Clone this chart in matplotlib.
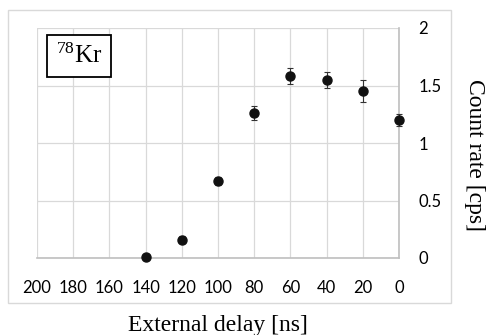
import matplotlib
matplotlib.use("Agg")
import matplotlib.pyplot as plt
from matplotlib.patches import Rectangle

plt.rcParams["mathtext.fontset"] = "custom"
plt.rcParams["mathtext.rm"] = "Liberation Serif"
plt.rcParams["mathtext.it"] = "Liberation Serif:italic"
plt.rcParams["mathtext.bf"] = "Liberation Serif:bold"

delay_ns = [140, 120, 100, 80, 60, 40, 20, 0]
count_rate = [0.01, 0.16, 0.67, 1.26, 1.58, 1.545, 1.455, 1.20]
count_err = [0.02, 0.03, 0.035, 0.06, 0.07, 0.07, 0.095, 0.05]
x_ticks = [200, 180, 160, 140, 120, 100, 80, 60, 40, 20, 0]
y_ticks = [0, 0.5, 1, 1.5, 2]
y_ticklabels = ["0", "0.5", "1", "1.5", "2"]

W, H = 486, 335
fig = plt.figure(figsize=(W / 100, H / 100), dpi=100)
ax = fig.add_axes([37 / W, 1 - 258 / H, (399 - 37) / W, (258 - 28) / H])

# outer chart frame
fig.patches.append(Rectangle((8 / W, 1 - 303 / H), (451 - 8) / W, (303 - 10) / H,
                             transform=fig.transFigure, fill=False,
                             edgecolor="#d9d9d9", linewidth=1.0, zorder=0))

ax.errorbar(delay_ns, count_rate, yerr=count_err, fmt="o", color="#111111",
            markersize=6.5, ecolor="#333333", elinewidth=0.8, capsize=2.5,
            capthick=0.8, zorder=5, clip_on=False)

ax.set_xlim(200, 0)
ax.set_ylim(0, 2)
ax.set_xticks(x_ticks)
ax.set_yticks(y_ticks)
ax.set_yticklabels(y_ticklabels)
ax.grid(True, color="#d9d9d9", linewidth=0.9)
ax.set_axisbelow(True)
for s in ["top", "left"]:
    ax.spines[s].set_visible(False)
ax.spines["bottom"].set_color("#bfbfbf")
ax.spines["right"].set_color("#bfbfbf")
ax.spines["bottom"].set_linewidth(1.2)
ax.spines["right"].set_linewidth(1.2)
ax.yaxis.tick_right()
ax.tick_params(axis="both", length=0, labelsize=12, colors="black", labelfontfamily="Lato")
ax.tick_params(axis="y", pad=14)
ax.tick_params(axis="x", pad=16)

fig.text(218 / W, 1 - 325 / H, "External delay [ns]", ha="center", va="center",
         family="Liberation Serif", fontsize=17)
fig.text(474 / W, 1 - 155 / H, "Count rate [cps]", ha="center", va="center",
         rotation=270, family="Liberation Serif", fontsize=17)

ax.text(0.117, 0.878, r"$^{78}$Kr", transform=ax.transAxes, ha="center", va="center",
        family="Liberation Serif", fontsize=18,
        bbox=dict(boxstyle="square,pad=0.35", facecolor="white", edgecolor="black", linewidth=1.3))

fig.savefig("out.png", dpi=100)
